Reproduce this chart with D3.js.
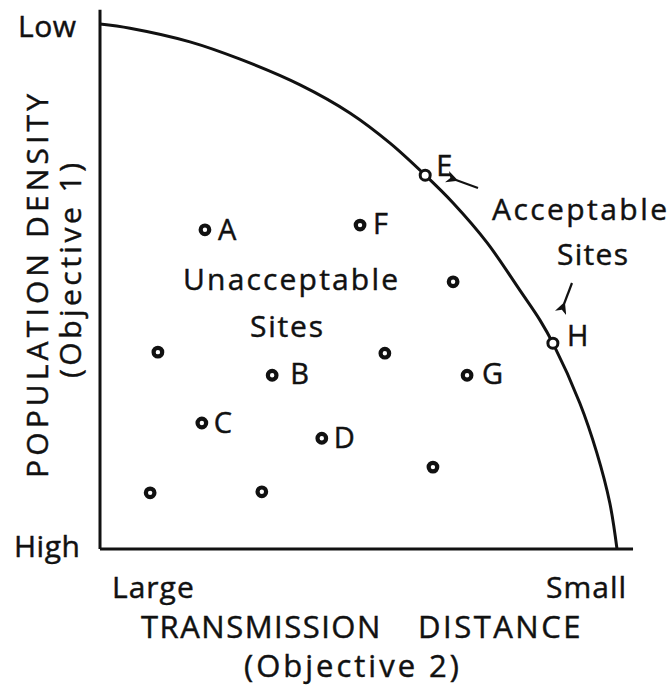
<!DOCTYPE html>
<html>
<head>
<meta charset="utf-8">
<script src="https://cdn.jsdelivr.net/npm/d3@7"></script>
<style>
  body { margin: 0; background: #fff; }
  text { font-family: "Open Sans", sans-serif; fill: #111; stroke: #111; stroke-width: 0.45; }
</style>
</head>
<body>
<div id="chart"></div>
<script>
// frontier of non-dominated sites (objective 2 score, objective 1 score)
let frontierX = [0, 5.8, 17.4, 27.1, 38.7, 48.4, 56.1, 62.9, 68.3, 74.9, 81.2, 85.1, 87.6, 92.8, 96.1, 98.6, 100];
let frontierY = [100, 99.2, 96.6, 93.3, 88.4, 83.0, 77.3, 71.2, 65.9, 58.3, 49.3, 43.6, 39.2, 27.8, 18.3, 8.8, 0];

// candidate sites
let siteNames = ["A", "F", "E", "", "H", "", "B", "", "G", "C", "D", "", "", ""];
let siteX = [20.3, 50.3, 62.9, 68.3, 87.6, 11.2, 33.3, 55.1, 71.0, 19.7, 42.9, 64.4, 9.7, 31.3];
let siteY = [60.8, 61.7, 71.2, 50.9, 39.2, 37.5, 33.1, 37.3, 33.1, 24.0, 21.1, 15.6, 10.7, 10.9];

let width = 672, height = 687;
let margin = {left: 100, right: 55, top: 24, bottom: 138};

let svg = d3.select("#chart").append("svg")
  .attr("width", width)
  .attr("height", height);

let x = d3.scaleLinear().domain([0, 100]).range([margin.left, width - margin.right]);
let y = d3.scaleLinear().domain([0, 100]).range([height - margin.bottom, margin.top]);

svg.append("defs").append("marker")
  .attr("id", "head")
  .attr("viewBox", "0 0 10 10")
  .attr("refX", 2).attr("refY", 5)
  .attr("markerWidth", 5.5).attr("markerHeight", 5.5)
  .attr("orient", "auto-start-reverse")
  .append("path")
  .attr("d", "M0,5 L10,0 L7,5 L10,10 Z")
  .attr("fill", "#111");

// axes: plain lines, no ticks
svg.append("line")
  .attr("x1", x(0)).attr("x2", x(0))
  .attr("y1", y(102.7)).attr("y2", y(0))
  .attr("stroke", "#111").attr("stroke-width", 3);

svg.append("line")
  .attr("x1", x(0)).attr("x2", x(103.1))
  .attr("y1", y(0)).attr("y2", y(0))
  .attr("stroke", "#111").attr("stroke-width", 3);

// frontier curve
let line = d3.line()
  .x(d => x(d[0]))
  .y(d => y(d[1]))
  .curve(d3.curveCatmullRom);

svg.append("path")
  .datum(d3.zip(frontierX, frontierY))
  .attr("d", line)
  .attr("fill", "none")
  .attr("stroke", "#111")
  .attr("stroke-width", 3);

// sites: heavy dots inside, thinner rings on the frontier
let sites = siteNames.map((n, i) => ({name: n, x: siteX[i], y: siteY[i]}));
let onFrontier = d => d.name === "E" || d.name === "H";

svg.selectAll("circle.site")
  .data(sites).enter().append("circle")
  .attr("class", "site")
  .attr("cx", d => x(d.x))
  .attr("cy", d => y(d.y))
  .attr("r", d => onFrontier(d) ? 5 : 4.3)
  .attr("fill", "#fff")
  .attr("stroke", "#111")
  .attr("stroke-width", d => onFrontier(d) ? 3 : 4.2);

let labelShift = {A: [13, 10], F: [13, 9], E: [11, 1], H: [14, 3], B: [18, 9], G: [15, 9], C: [12, 10], D: [12, 10]};

svg.selectAll("text.site")
  .data(sites.filter(d => d.name !== "")).enter().append("text")
  .attr("class", "site")
  .attr("x", d => x(d.x) + labelShift[d.name][0])
  .attr("y", d => y(d.y) + labelShift[d.name][1])
  .attr("font-size", 29)
  .text(d => d.name);

// text helper: left edge, baseline, letter spacing or fixed width
function label(str, x0, base, spacing, len, size) {
  let t = svg.append("text")
    .attr("x", x0).attr("y", base)
    .attr("font-size", size || 30)
    .attr("letter-spacing", spacing)
    .text(str);
  if (len) t.attr("textLength", len).attr("lengthAdjust", "spacing");
  return t;
}

label("Unacceptable", 183, 290, 0, 215);
label("Sites", 250, 337, 0, 73);
label("Acceptable", 492, 220, 0, 175);
label("Sites", 557, 265, 0, 71);

svg.append("line")
  .attr("x1", 478).attr("y1", 188)
  .attr("x2", 456).attr("y2", 180)
  .attr("stroke", "#111").attr("stroke-width", 2.2)
  .attr("marker-end", "url(#head)");

svg.append("line")
  .attr("x1", 572).attr("y1", 283)
  .attr("x2", 564).attr("y2", 304)
  .attr("stroke", "#111").attr("stroke-width", 2.2)
  .attr("marker-end", "url(#head)");

// axis end labels
label("Low", 18, 37, 0.5);
label("High", 14, 557, 0.5);
label("Large", 112, 598, 1);
label("Small", 546, 598, 1);

// axis titles
label("TRANSMISSION", 141, 638, 1.5, 0, 31);
label("DISTANCE", 418, 638, 2.5, 0, 31);
label("(Objective 2)", 244, 677, 3, 0, 31);

svg.append("text")
  .attr("transform", `translate(48, 478) rotate(-90)`)
  .attr("font-size", 30)
  .attr("textLength", 384)
  .attr("lengthAdjust", "spacing")
  .text("POPULATION DENSITY");
svg.append("text")
  .attr("transform", `translate(81, 378) rotate(-90)`)
  .attr("font-size", 30)
  .attr("textLength", 215)
  .attr("lengthAdjust", "spacing")
  .text("(Objective 1)");
</script>
</body>
</html>
